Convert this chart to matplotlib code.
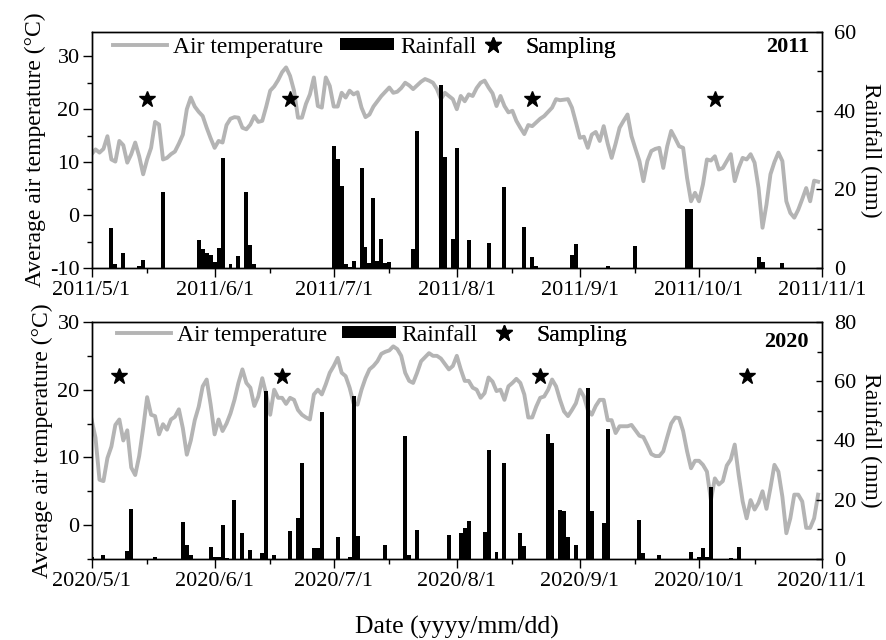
import numpy as np
import pandas as pd
import matplotlib
matplotlib.use("Agg")
import matplotlib.pyplot as plt
import matplotlib.dates as mdates
from matplotlib.ticker import MultipleLocator, FuncFormatter
from matplotlib.lines import Line2D
from matplotlib.patches import Patch

plt.rcParams['font.family'] = ['Liberation Serif', 'DejaVu Serif']
plt.rcParams['axes.unicode_minus'] = False

# ---------------- data ----------------
# daily mean air temperature (°C), 1 May .. 31 Oct
temp_2011 = [
    11.5, 12.4, 11.8, 12.5, 14.9, 10.5, 10.1, 14.0, 13.2, 9.9,
    11.5, 13.7, 11.1, 7.7, 10.5, 12.7, 17.6, 17.1, 10.5, 10.8,
    11.5, 12.0, 13.5, 15.2, 20.0, 22.2, 20.5, 19.5, 18.7, 16.5,
    14.5, 12.7, 14.0, 13.7, 17.0, 18.2, 18.5, 18.4, 16.5, 16.2,
    17.1, 18.7, 17.6, 17.8, 20.5, 23.5, 24.3, 25.5, 27.0, 27.9,
    26.3, 23.5, 18.4, 18.4, 21.0, 22.8, 26.0, 20.6, 20.3, 26.0,
    24.4, 20.5, 20.5, 23.1, 22.2, 23.5, 22.8, 23.2, 20.3, 18.5,
    19.0, 20.5, 21.5, 22.5, 23.3, 24.1, 23.1, 23.3, 24.0, 25.0,
    24.5, 23.8, 24.5, 25.2, 25.7, 25.4, 25.0, 23.8, 21.9, 23.1,
    22.5, 21.9, 20.0, 22.5, 21.5, 22.8, 22.5, 24.0, 25.0, 25.4,
    24.1, 23.0, 20.6, 22.5, 20.6, 19.4, 19.7, 17.8, 16.5, 15.3,
    17.0, 16.8, 17.5, 18.2, 18.7, 19.5, 20.3, 21.9, 21.7, 21.8,
    21.9, 20.3, 17.5, 14.6, 14.8, 12.7, 15.2, 15.7, 14.0, 16.8,
    13.5, 10.8, 13.5, 16.5, 17.8, 19.0, 14.9, 12.5, 10.2, 6.4,
    10.2, 12.1, 12.5, 12.7, 8.9, 13.0, 15.9, 14.5, 13.0, 12.7,
    7.0, 2.6, 4.2, 2.6, 5.8, 10.5, 10.3, 11.1, 8.6, 8.9,
    10.2, 11.5, 6.4, 8.9, 10.8, 10.5, 11.5, 9.9, 5.1, -2.4,
    2.0, 7.7, 10.0, 11.8, 10.2, 2.6, 0.4, -0.5, 1.0, 3.0,
    5.1, 2.6, 6.5, 6.3,
]
temp_2020 = [
    15.6, 12.9, 6.7, 6.5, 9.9, 11.6, 14.8, 15.6, 12.5, 14.0,
    8.5, 7.4, 10.2, 14.3, 18.9, 16.3, 16.1, 13.4, 14.9, 14.1,
    15.6, 16.0, 17.1, 14.3, 10.4, 12.5, 15.5, 17.5, 20.5, 21.5,
    17.8, 13.4, 15.6, 13.9, 15.0, 16.5, 18.5, 21.0, 23.0, 21.0,
    20.3, 17.6, 19.0, 21.7, 19.3, 16.3, 20.0, 18.8, 18.8, 17.9,
    18.8, 18.5, 17.0, 16.3, 15.9, 15.6, 19.3, 20.0, 19.3, 20.8,
    22.5, 23.5, 24.7, 22.5, 22.0, 20.3, 18.0, 17.8, 20.0, 21.7,
    23.0, 23.5, 24.2, 25.3, 25.6, 25.8, 26.4, 26.0, 25.0, 22.5,
    21.3, 21.0, 22.5, 24.2, 24.8, 25.4, 25.0, 25.0, 24.6, 23.8,
    23.0, 23.5, 25.0, 23.0, 21.3, 21.3, 20.3, 20.0, 18.8, 19.5,
    21.8, 21.2, 19.8, 20.0, 18.5, 20.5, 21.0, 21.6, 21.0, 19.3,
    15.9, 15.9, 17.5, 18.8, 19.0, 20.0, 21.5, 20.5, 18.5, 16.8,
    16.1, 17.0, 18.0, 20.0, 19.0, 17.0, 16.3, 17.6, 18.5, 18.5,
    15.5, 15.5, 13.6, 14.6, 14.6, 14.6, 14.8, 14.0, 13.2, 13.0,
    11.8, 10.5, 10.2, 10.2, 10.9, 13.0, 15.0, 15.9, 15.8, 13.9,
    10.9, 8.4, 9.5, 9.5, 8.9, 7.9, 3.7, 6.9, 6.0, 6.5,
    8.8, 9.7, 11.9, 7.4, 3.5, 1.0, 3.7, 2.3, 3.3, 5.0,
    2.4, 5.5, 8.9, 7.9, 4.2, -1.2, 1.0, 4.5, 4.5, 3.5,
    -0.4, -0.4, 1.0, 4.5,
]

# rainfall events: day number counted from 1 May, amount (mm)
rain_2011_day = [5, 6, 8, 12, 13, 18, 27, 28, 29, 30, 31, 32, 33, 35, 37, 39, 40, 41,
                 61, 62, 63, 64, 65, 66, 68, 69, 70, 71, 72, 73, 74, 75, 81, 82,
                 88, 89, 91, 92, 95, 100, 104, 109, 111, 112, 121, 122, 130, 137,
                 150, 151, 168, 169, 174]
rain_2011_mm = [10.2, 0.9, 3.8, 0.5, 1.9, 19.4, 7.0, 4.8, 3.8, 3.4, 1.6, 5.1, 28.0, 1.1, 3.1, 19.2, 5.8, 0.9,
                31.0, 27.6, 20.8, 0.9, 0.2, 1.7, 25.3, 5.3, 1.3, 17.9, 1.7, 7.3, 1.3, 1.5, 4.7, 34.8,
                46.5, 28.2, 7.3, 30.4, 7.2, 6.3, 20.6, 10.4, 2.8, 0.5, 3.4, 6.2, 0.4, 5.5,
                15.1, 15.1, 2.9, 1.5, 1.2]
rain_2020_day = [0, 3, 9, 10, 16, 23, 24, 25, 30, 31, 32, 33, 34, 36, 38, 40, 43, 44, 46,
                 50, 52, 53, 56, 57, 58, 62, 65, 66, 67, 74, 79, 80, 82, 90, 93, 94, 95,
                 99, 100, 102, 104, 108, 109, 115, 116, 118, 119, 120, 122, 125, 126,
                 129, 130, 138, 139, 143, 151, 153, 154, 155, 156, 161, 163]
rain_2020_mm = [0.8, 1.4, 2.8, 17.0, 0.5, 12.5, 4.6, 1.2, 4.2, 0.8, 0.7, 11.6, 0.3, 20.0, 8.7, 3.0, 2.0, 56.6, 1.2,
                9.3, 13.8, 32.4, 3.7, 3.7, 49.7, 7.3, 0.5, 55.0, 7.6, 4.8, 41.4, 1.2, 9.9, 8.2, 8.7, 10.4, 12.9,
                9.1, 36.8, 2.3, 32.3, 8.7, 4.3, 42.2, 39.1, 16.4, 16.1, 7.3, 4.8, 57.8, 16.3,
                12.2, 43.9, 13.1, 1.9, 1.2, 2.3, 0.5, 3.7, 0.5, 24.2, 0.3, 4.2]

# sampling dates (day number from 1 May)
sampling_2011_day = [14, 50, 111, 157]
sampling_2020_day = [7, 48, 113, 165]
sampling_level = 22

TEMP_COLOR = '#b4b4b4'

fig = plt.figure(figsize=(8.87, 6.4), dpi=100)


def fmt_date(x, pos):
    d = mdates.num2date(x)
    return f"{d.year}/{d.month}/{d.day}"


def panel(rect, year, temps, rdays, rmm, sdays, tlim, tmajor, rlim, rmajor, rminor,
          leg_y, leg_x, year_y):
    ax = fig.add_axes(rect)
    start = pd.Timestamp(f'{year}-05-01')
    end = pd.Timestamp(f'{year}-11-01')
    dates = pd.date_range(start, periods=len(temps), freq='D')
    ax.plot(dates, temps, color=TEMP_COLOR, lw=2.8, solid_joinstyle='round', zorder=2)
    sdates = start + pd.to_timedelta(sdays, unit='D')
    ax.plot(sdates, [sampling_level] * len(sdays), ls='none', marker='*', ms=12,
            color='black', zorder=3)
    ax.set_xlim(start, end)
    ax.set_ylim(*tlim)
    ax.yaxis.set_major_locator(MultipleLocator(tmajor))
    ax.yaxis.set_minor_locator(MultipleLocator(tmajor / 2))
    ax.xaxis.set_major_locator(mdates.MonthLocator())
    ax.xaxis.set_minor_locator(mdates.MonthLocator(bymonthday=15))
    ax.xaxis.set_major_formatter(FuncFormatter(fmt_date))
    ax.tick_params(axis='x', which='major', direction='out', length=6.5, width=1.0,
                   labelsize=16, pad=3)
    ax.tick_params(axis='x', which='minor', direction='out', length=3.8, width=1.0)
    ax.tick_params(axis='y', which='major', direction='out', length=6.5, width=1.0,
                   labelsize=16, pad=2)
    ax.tick_params(axis='y', which='minor', direction='out', length=3.8, width=1.0)
    ax.set_ylabel('Average air temperature (°C)', fontsize=17, labelpad=3)

    ax2 = ax.twinx()
    rdates = start + pd.to_timedelta(rdays, unit='D')
    ax2.bar(rdates, rmm, width=1.0, color='black', linewidth=0, zorder=2)
    ax2.set_xlim(start, end)
    ax2.set_ylim(*rlim)
    ax2.yaxis.set_major_locator(MultipleLocator(rmajor))
    ax2.yaxis.set_minor_locator(MultipleLocator(rminor))
    ax2.tick_params(axis='y', which='major', direction='in', length=4, width=1.0,
                    labelsize=16, pad=8.5)
    ax2.tick_params(axis='y', which='minor', direction='in', length=3.5, width=1.0)
    ax2.set_ylabel('Rainfall (mm)', fontsize=17, rotation=270, va='bottom', labelpad=3)

    for a in (ax, ax2):
        for s in a.spines.values():
            s.set_linewidth(1.0)

    handles = [
        (Line2D([], [], color=TEMP_COLOR, lw=2.8), 'Air temperature'),
        (Patch(facecolor='black', edgecolor='black', linewidth=0), 'Rainfall'),
        (Line2D([], [], ls='none', marker='*', ms=12, color='black'), 'Sampling'),
    ]
    for (h, lab), x in zip(handles, leg_x):
        lg = ax2.legend([h], [lab], loc='center left', bbox_to_anchor=(x, leg_y),
                        frameon=False, borderpad=0, borderaxespad=0,
                        handlelength=2.29, handletextpad=0.25, handleheight=0.45,
                        fontsize=17)
        ax2.add_artist(lg)

    ax2.text(0.982, year_y, str(year), transform=ax2.transAxes, ha='right',
             va='baseline', fontsize=16, fontweight='bold')
    return ax, ax2


panel([0.1032, 0.5813, 0.8236, 0.3688], 2011, temp_2011, rain_2011_day, rain_2011_mm,
      sampling_2011_day, (-10, 34.6), 10, (0, 60), 20, 10,
      0.936, (0.0294, 0.340, 0.5123), 0.9165)
panel([0.1032, 0.1266, 0.8236, 0.3703], 2020, temp_2020, rain_2020_day, rain_2020_mm,
      sampling_2020_day, (-5, 30), 10, (0, 80), 20, 10,
      0.945, (0.0349, 0.3425, 0.5273), 0.896)

fig.text(456.7 / 887, 1 - 634 / 640, 'Date (yyyy/mm/dd)', ha='center', va='baseline',
         fontsize=18.5)

fig.savefig('out.png', dpi=100)
